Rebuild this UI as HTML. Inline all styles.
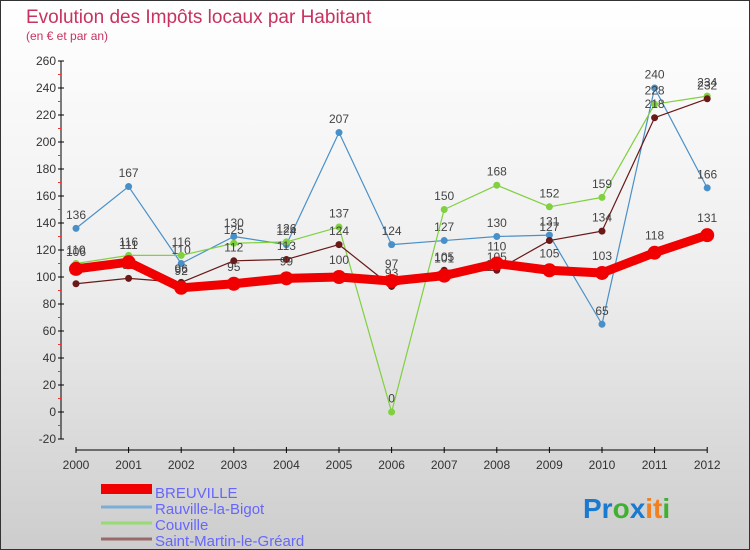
<!DOCTYPE html>
<html><head><meta charset="utf-8"><style>
body{margin:0}
#wrap{position:relative;width:748px;height:548px;border:1px solid #333;background:linear-gradient(#ffffff 0%,#eeeeee 50%,#cdcdcd 100%);font-family:"Liberation Sans",sans-serif;overflow:hidden}
</style></head><body>
<div id="wrap">
<svg id="c" width="748" height="548" style="position:absolute;left:0;top:0"></svg>
</div>
<script>
const years=["2000","2001","2002","2003","2004","2005","2006","2007","2008","2009","2010","2011","2012"];
const breuville=[106,111,92,95,99,100,97,101,110,105,103,118,131];
const rauville=[136,167,110,130,124,207,124,127,130,131,65,240,166];
const couville=[110,116,116,125,126,137,0,150,168,152,159,228,234];
const stmartin=[95,99,96,112,113,124,93,105,105,127,134,218,232];
const yTicks=[-20,0,20,40,60,80,100,120,140,160,180,200,220,240,260];
const seriesNames=["BREUVILLE","Rauville-la-Bigot","Couville","Saint-Martin-le-Géraud"];
seriesNames[3]="Saint-Martin-le-Gréard";
const NS="http://www.w3.org/2000/svg";
const svg=document.getElementById('c');
function X(i){return 75+i*52.6;}
function Y(v){return 411-v*1.35;}
function mk(t,a,p){const e=document.createElementNS(NS,t);for(const k in a)e.setAttribute(k,a[k]);(p||svg).appendChild(e);return e;}
// title
let t=mk('text',{x:25,y:22,fill:'#c8325e','font-size':19});t.textContent="Evolution des Impôts locaux par Habitant";

t=mk('text',{x:25,y:39,fill:'#c8325e','font-size':12});t.textContent="(en € et par an)";

// axes
let a=mk('line',{x1:60,y1:Y(260),x2:60,y2:Y(-20),stroke:'#000'});

yTicks.forEach(v=>{mk('line',{x1:57,x2:63,y1:Y(v),y2:Y(v),stroke:'#000'});
 if(v<260)mk('line',{x1:57,x2:60,y1:Y(v+10),y2:Y(v+10),stroke:'#e33'});
 const l=mk('text',{x:55,y:Y(v)+4,'text-anchor':'end','font-size':12,fill:'#333'});l.textContent=v;
 });
a=mk('line',{x1:X(0),y1:449,x2:X(12),y2:449,stroke:'#000'});

years.forEach((y,i)=>{mk('line',{x1:X(i),x2:X(i),y1:446,y2:452,stroke:'#000'});
 const l=mk('text',{x:X(i),y:468,'text-anchor':'middle','font-size':12,fill:'#333'});l.textContent=y;
 });
function series(data,color,w,r,name){
 const g=mk('g',{});
 mk('polyline',{points:data.map((v,i)=>X(i)+','+Y(v)).join(' '),fill:'none',stroke:color,'stroke-width':w,'stroke-linejoin':'round'},g);
 data.forEach((v,i)=>{const c=mk('circle',{cx:X(i),cy:Y(v),r:r,fill:color},g);
  
  const l=mk('text',{x:X(i),y:Y(v)-r-6,'text-anchor':'middle','font-size':12,fill:'#444'},g);l.textContent=v;
  });
}
series(rauville,'#4a90c8',1.2,3.5,'rauville-series');
series(couville,'#80d040',1.2,3.5,'couville-series');
series(stmartin,'#6a1818',1.2,3.5,'stmartin-series');
series(breuville,'#f00000',9,7,'breuville-series');
// legend
const lc=['#f00000','#7aaed8','#96dc70','#9a6a6a'],lw=[10,3,3,3];
seriesNames.forEach((n,i)=>{const y=492+i*16;
 const g=mk('g',{});
 mk('line',{x1:100,x2:151,y1:y-2+(i==0?-2:0),y2:y-2+(i==0?-2:0),stroke:lc[i],'stroke-width':lw[i]},g);
 const l=mk('text',{x:154,y:y+5,'font-size':15,fill:'#6666ff'},g);l.textContent=n;});
// logo
const lg=mk('text',{x:582,y:517,'font-size':28,'font-weight':'bold','font-family':'Liberation Sans, sans-serif'});

[['Pr','#1a7ad0'],['o','#40b030'],['x','#1a7ad0'],['i','#f08020'],['t','#f08020'],['i','#40b030']].forEach(p=>{const s=mk('tspan',{fill:p[1]},lg);s.textContent=p[0];});
</script>
</body></html>
